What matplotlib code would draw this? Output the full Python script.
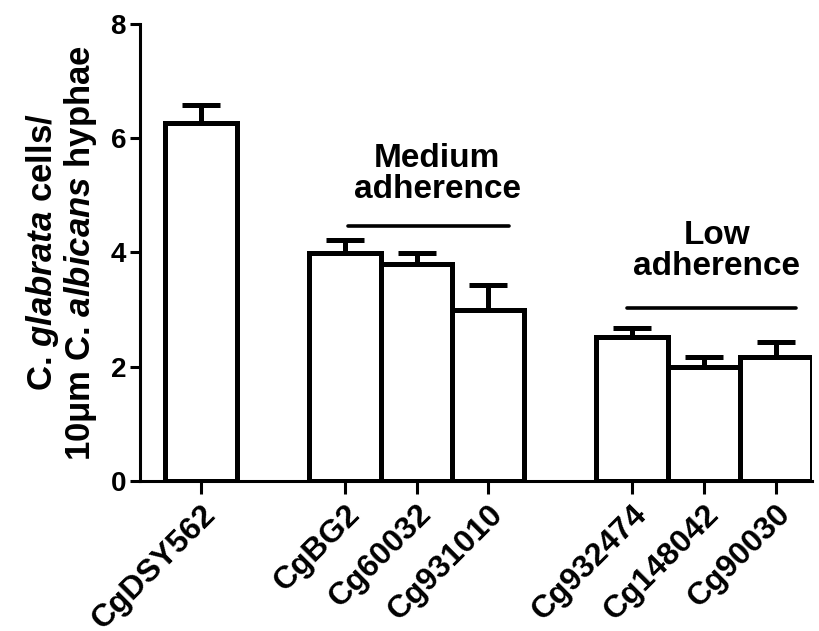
import matplotlib.pyplot as plt
import numpy as np

plt.rcParams['font.family'] = ['Liberation Sans', 'DejaVu Sans']
plt.rcParams['font.weight'] = 'bold'
plt.rcParams['mathtext.fontset'] = 'custom'
plt.rcParams['mathtext.rm'] = 'Liberation Sans:bold'
plt.rcParams['mathtext.it'] = 'Liberation Sans:italic:bold'

# data
strains = ['CgDSY562', 'CgBG2', 'Cg60032', 'Cg931010',
           'Cg932474', 'Cg148042', 'Cg90030']
positions = [0, 2, 3, 4, 6, 7, 8]
means = [6.27, 3.99, 3.80, 2.99, 2.52, 2.00, 2.17]
sems = [0.31, 0.23, 0.19, 0.44, 0.16, 0.17, 0.26]

fig = plt.figure(figsize=(8.2, 6.31), dpi=100)
ax = fig.add_axes([0.1707, 0.2377, 0.819, 0.7243])

lw = 3.6
ax.errorbar(positions, means, yerr=[np.zeros(len(sems)), sems], fmt='none',
            ecolor='black', elinewidth=lw, capsize=14, capthick=lw, zorder=1)
ax.bar(positions, means, width=1.0, color='white', edgecolor='black',
       linewidth=lw, zorder=2)

# group brackets
ax.plot([2.04, 4.29], [4.47, 4.47], color='black', lw=2.6, solid_capstyle='round')
ax.text(3.29, 5.38, 'Medium\nadherence', ha='center', va='center',
        fontsize=24, fontweight='bold', linespacing=1.0)
ax.plot([5.93, 8.28], [3.03, 3.03], color='black', lw=2.6, solid_capstyle='round')
ax.text(7.18, 4.03, 'Low\nadherence', ha='center', va='center',
        fontsize=24, fontweight='bold', linespacing=1.0)

ax.set_xlim(-0.85, 8.5)
ax.set_ylim(0, 8)
ax.set_yticks([0, 2, 4, 6, 8])
ax.set_xticks(positions)
ax.set_xticklabels(strains, rotation=45, ha='right', rotation_mode='anchor',
                   fontsize=23, fontweight='bold')
ax.tick_params(axis='y', labelsize=20, width=2.2, length=7, pad=3)
ax.tick_params(axis='x', width=2.2, length=9, pad=4)
for lab in ax.get_yticklabels():
    lab.set_fontweight('bold')

for side in ['top', 'right']:
    ax.spines[side].set_visible(False)
for side in ['left', 'bottom']:
    ax.spines[side].set_linewidth(2.2)

ax.set_ylabel('C. $\\mathit{glabrata}$ cells/\n10\u03bcm C. $\\mathit{albicans}$ hyphae',
              fontsize=25, fontweight='bold', linespacing=1.05, labelpad=8)

fig.savefig('out.png', dpi=100)
